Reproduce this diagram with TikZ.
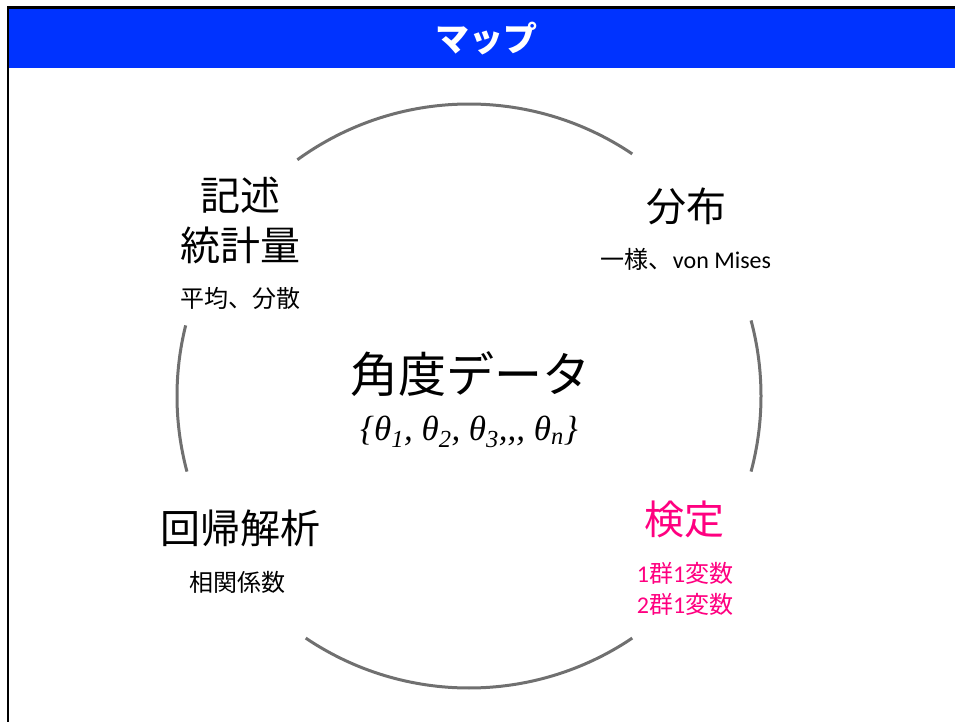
\documentclass[tikz,border=0pt]{standalone}
\usepackage{fontspec}
\setmainfont{Carlito}
\newfontfamily\jp{Noto Sans CJK JP}
\newfontfamily\tms{Liberation Serif}
\definecolor{titleblue}{RGB}{0,51,255}
\definecolor{testpink}{RGB}{255,0,128}
\definecolor{ringgray}{RGB}{112,112,112}
\newcommand\bigsize{\fontsize{40}{50}\selectfont}
\newcommand\smallsize{\fontsize{24}{31}\selectfont}

\begin{document}
\begin{tikzpicture}[x=1pt,y=-1pt]
    \useasboundingbox (0,0) rectangle (955,722);
    \fill[titleblue] (8,8) rectangle (955,68);
    \draw[line width=2.5pt] (8,722) -- (8,7.5) -- (955,7.5);
    \node (T) at (486,39) [text=white,inner sep=0] {\jp\bfseries\fontsize{34}{40}\selectfont マップ}; % title
    \coordinate (O) at (469,396); % ring centre
    \node (D) at (470,374) [inner sep=0] {\jp\fontsize{48}{56}\selectfont 角度データ};
    \node (Th) at (469,432) [inner sep=0] {\tms\itshape\fontsize{35}{40}\selectfont \{θ\textsubscript{1}, θ\textsubscript{2}, θ\textsubscript{3},,, θ\textsubscript{n}\}};
    \node (S) at (240,220) [align=center,font=\jp\bigsize,inner sep=0] {記述\\統計量};
    \node (S2) at (240,298) [inner sep=0] {\jp\smallsize 平均、分散};
    \node (F) at (686,206) [inner sep=0] {\jp\bigsize 分布};
    \node (F2) at (686,259) [inner sep=0] {\smallsize{\jp 一様、}von Mises};
    \node (R) at (240,528) [inner sep=0] {\jp\bigsize 回帰解析};
    \node (R2) at (237,582) [inner sep=0] {\jp\smallsize 相関係数};
    \node (K) at (684,519) [text=testpink,inner sep=0] {\jp\bigsize 検定};
    \node (K2) at (685,589) [text=testpink,align=center,font=\smallsize,inner sep=0] {1{\jp 群}1{\jp 変数}\\2{\jp 群}1{\jp 変数}};
    \draw[ringgray,line width=3pt]
      ([shift={(56:292pt)}]O) arc[start angle=56,end angle=126,radius=292pt]
      ([shift={(166:292pt)}]O) arc[start angle=166,end angle=195,radius=292pt]
      ([shift={(236:292pt)}]O) arc[start angle=236,end angle=304,radius=292pt]
      ([shift={(-15:292pt)}]O) arc[start angle=-15,end angle=15,radius=292pt];
\end{tikzpicture}
\end{document}
